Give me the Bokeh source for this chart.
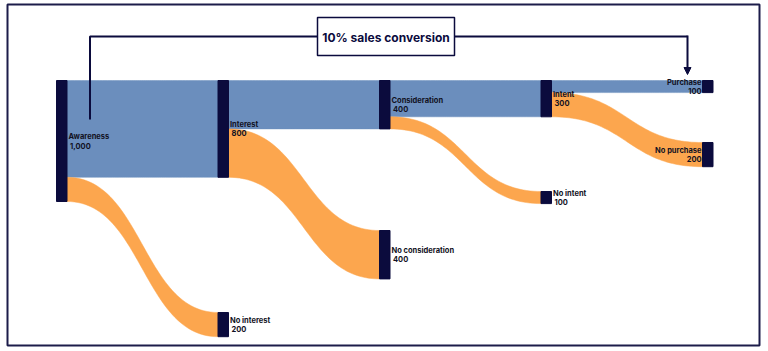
import numpy as np
from bokeh.plotting import figure
from bokeh.models import Range1d, Arrow, NormalHead, ColumnDataSource
from bokeh.core.properties import value
from bokeh.embed import file_html
from bokeh.resources import INLINE

# ---------------- data ----------------
node_names = ["Awareness", "Interest", "No interest", "Consideration",
              "No consideration", "Intent", "No intent", "Purchase", "No purchase"]
node_values = [1000, 800, 200, 400, 400, 300, 100, 100, 200]
node_stage = [0, 1, 1, 2, 2, 3, 3, 4, 4]

link_source = ["Awareness", "Awareness", "Interest", "Interest",
               "Consideration", "Consideration", "Intent", "Intent"]
link_target = ["Interest", "No interest", "Consideration", "No consideration",
               "Intent", "No intent", "Purchase", "No purchase"]
link_values = [800, 200, 400, 400, 300, 100, 100, 200]

annotation_text = "10% sales conversion"
annotation_from = "Awareness"
annotation_to = "Purchase"

# ---------------- layout / style ----------------
NAVY = "#0b0b3d"
BLUE = "#6b8ebd"
ORANGE = "#fca64e"
TEXT = "#111122"
FONT = "Inter"

col_x0 = 56.0          # left of first column
col_step = 161.5       # distance between columns
node_w = 10.5
px_per_unit = 0.121
top_y = 80.0
# vertical offset (px) of each node's top below the common top line
node_offset = {"Awareness": 0, "Interest": 0, "No interest": 232,
               "Consideration": 0, "No consideration": 150, "Intent": 0,
               "No intent": 111, "Purchase": 0, "No purchase": 62}
main_path = {"Awareness", "Interest", "Consideration", "Intent", "Purchase"}

W, H = 768, 351
p = figure(width=W, height=H, output_backend="svg", toolbar_location=None,
           x_range=Range1d(7, 759), y_range=Range1d(345, 4),
           min_border_left=7, min_border_right=9, min_border_top=4,
           min_border_bottom=6)
p.axis.visible = False
p.grid.visible = False
p.outline_line_color = "#1c1c4a"
p.outline_line_width = 2
p.background_fill_color = "white"
p.border_fill_color = "white"

# node geometry
nodes = {}
for name, v, s in zip(node_names, node_values, node_stage):
    x0 = col_x0 + s * col_step
    y0 = top_y + node_offset[name]
    nodes[name] = dict(x0=x0, x1=x0 + node_w, y0=y0, y1=y0 + v * px_per_unit,
                       out=y0, inn=y0, value=v, stage=s)

# links
def bez(xa, ya, xb, yb, n=60):
    t = np.linspace(0, 1, n)
    xm = (xa + xb) / 2
    x = (1 - t) ** 3 * xa + 3 * (1 - t) ** 2 * t * xm + 3 * (1 - t) * t ** 2 * xm + t ** 3 * xb
    y = (1 - t) ** 3 * ya + 3 * (1 - t) ** 2 * t * ya + 3 * (1 - t) * t ** 2 * yb + t ** 3 * yb
    return x, y

xs, ys, cols = [], [], []
for s, t, v in zip(link_source, link_target, link_values):
    a, b = nodes[s], nodes[t]
    h = v * px_per_unit
    sy0, ty0 = a["out"], b["inn"]
    a["out"] += h
    b["inn"] += h
    tx, ty = bez(a["x1"], sy0, b["x0"], ty0)
    bx, by = bez(a["x1"], sy0 + h, b["x0"], ty0 + h)
    xs.append(list(tx) + list(bx[::-1]))
    ys.append(list(ty) + list(by[::-1]))
    cols.append(BLUE if t in main_path else ORANGE)

p.patches(xs=xs, ys=ys, fill_color=cols, line_color=cols, line_width=0.5)

# nodes
p.quad(left=[nodes[n]["x0"] for n in node_names], right=[nodes[n]["x1"] for n in node_names],
       top=[nodes[n]["y0"] for n in node_names], bottom=[nodes[n]["y1"] for n in node_names],
       fill_color=NAVY, line_color=NAVY)

# labels
last_stage = max(node_stage)
lx, ly, lt, la = [], [], [], []
vx, vy, vt = [], [], []
for n in node_names:
    d = nodes[n]
    cy = (d["y0"] + d["y1"]) / 2
    if d["stage"] == last_stage:
        x = d["x0"] - 1
        al = "right"
    else:
        x = d["x1"] + 1.5
        al = "left"
    lx.append(x); ly.append(cy - 4.5); lt.append(n); la.append(al)
    vx.append(x + (1.5 if al == "left" else 0)); vy.append(cy + 4.5); vt.append(f"{d['value']:,}")

src_l = ColumnDataSource(dict(x=lx, y=ly, text=lt, align=la))
src_v = ColumnDataSource(dict(x=vx, y=vy, text=vt, align=la))
p.text(x="x", y="y", text="text", text_align="align", text_baseline="middle",
       source=src_l, text_font=value(FONT), text_font_size="7.5px",
       text_font_style="bold", text_color=TEXT)
p.text(x="x", y="y", text="text", text_align="align", text_baseline="middle",
       source=src_v, text_font=value(FONT), text_font_size="7.5px",
       text_font_style="bold", text_color=TEXT)

# annotation connector
a = nodes[annotation_from]
b = nodes[annotation_to]
line_y = 36
start_x = a["x1"] + 23
end_x = b["x0"] - 15
box_cx, box_w, box_h = 385.5, 137, 38
p.line(x=[start_x, start_x, box_cx - box_w / 2], y=[119, line_y, line_y],
       line_color=NAVY, line_width=2)
p.line(x=[box_cx + box_w / 2, end_x], y=[line_y, line_y], line_color=NAVY, line_width=2)
p.add_layout(Arrow(end=NormalHead(size=7, fill_color=NAVY, line_color=NAVY),
                   x_start=end_x, y_start=line_y - 1, x_end=end_x, y_end=b["y0"] - 6,
                   line_color=NAVY, line_width=2))
p.rect(x=[box_cx], y=[line_y], width=box_w, height=box_h, fill_color="white",
       line_color=NAVY, line_width=1.5)
p.text(x=[box_cx], y=[line_y + 0.5], text=[annotation_text], text_align="center",
       text_baseline="middle", text_font=value(FONT), text_font_size="12px",
       text_font_style="bold", text_color=NAVY)

open("out.html", "w").write(file_html(p, INLINE))
